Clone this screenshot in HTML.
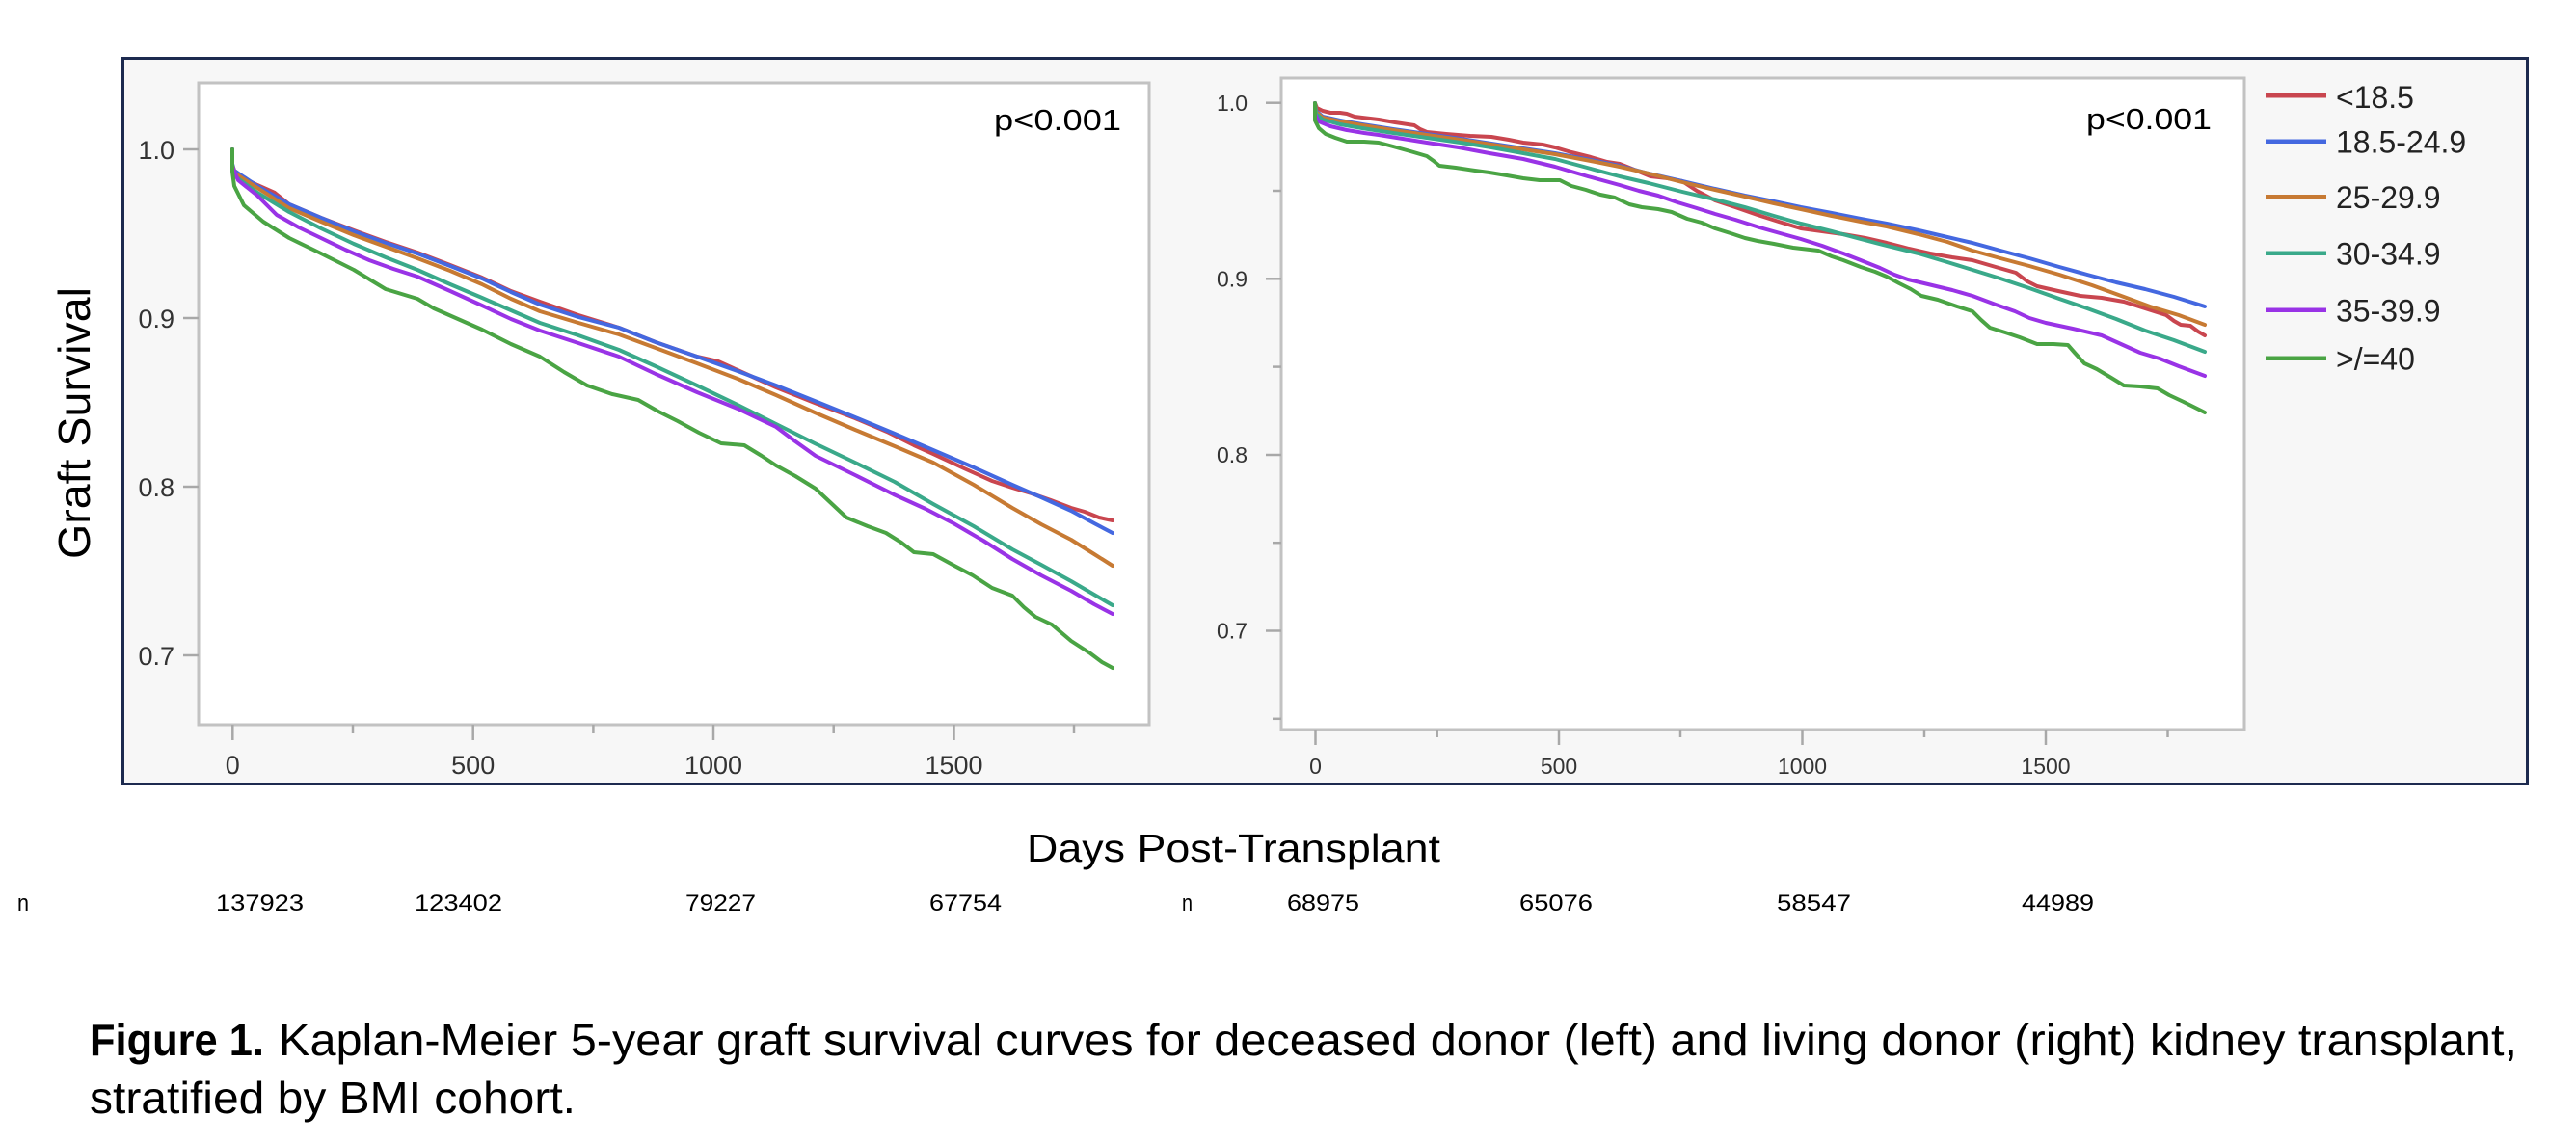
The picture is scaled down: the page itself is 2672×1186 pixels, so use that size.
<!DOCTYPE html>
<html><head><meta charset="utf-8">
<style>
html,body{margin:0;padding:0;background:#fff;}
svg{display:block;}
text{font-family:"Liberation Sans",Arial,sans-serif;}
</style></head>
<body>
<svg width="2672" height="1186" viewBox="0 0 2672 1186" xmlns="http://www.w3.org/2000/svg">
<rect x="0" y="0" width="2672" height="1186" fill="#fff"/>
<!-- outer frame -->
<rect x="127.5" y="60.5" width="2494" height="753" fill="#f7f7f7" stroke="#1d2a4f" stroke-width="3"/>

<!-- LEFT PLOT -->
<rect x="206" y="86" width="986" height="666" fill="#fff" stroke="#c2c2c2" stroke-width="3"/>
<g stroke="#a8a8a8" stroke-width="2.5">
<line x1="190" y1="155" x2="206" y2="155"/><line x1="190" y1="330" x2="206" y2="330"/>
<line x1="190" y1="505" x2="206" y2="505"/><line x1="190" y1="680" x2="206" y2="680"/>
<line x1="241.3" y1="752" x2="241.3" y2="768"/><line x1="490.7" y1="752" x2="490.7" y2="768"/>
<line x1="740" y1="752" x2="740" y2="768"/><line x1="989.5" y1="752" x2="989.5" y2="768"/>
<line x1="366" y1="752" x2="366" y2="761"/><line x1="615.4" y1="752" x2="615.4" y2="761"/>
<line x1="864.7" y1="752" x2="864.7" y2="761"/><line x1="1114" y1="752" x2="1114" y2="761"/>
</g>
<g font-size="27" fill="#333" text-anchor="end">
<text x="181" y="165">1.0</text><text x="181" y="340">0.9</text>
<text x="181" y="515">0.8</text><text x="181" y="690">0.7</text>
</g>
<g font-size="27" fill="#333" text-anchor="middle">
<text x="241.3" y="803">0</text><text x="490.7" y="803">500</text>
<text x="740" y="803">1000</text><text x="989.5" y="803">1500</text>
</g>
<text x="1031" y="135" font-size="31" fill="#000" textLength="132" lengthAdjust="spacingAndGlyphs">p&lt;0.001</text>

<g fill="none" stroke-width="4" stroke-linejoin="round" stroke-linecap="round">
<polyline stroke="#c9464f" points="241,155 241,172 243,177 255,186 267,192 285,200 300,212 333,226 367,239 400,251 433,262 467,275 500,288 530,302 560,313 600,327 642,340 680,355 723,370 745,375 765,384 805,402 845,418 887,434 920,448 948,462 968,471 1000,486 1029,499 1050,506 1070,512 1090,519 1111,527 1125,531 1140,537 1154,540"/>
<polyline stroke="#4468e0" points="241,155 241,170 243,177 267,193 300,212 333,226 367,240 400,252 433,263 467,276 500,289 530,303 560,316 600,329 642,340 680,355 723,370 765,385 805,400 845,416 887,433 928,450 968,467 1010,485 1050,503 1080,516 1111,530 1135,543 1154,553"/>
<polyline stroke="#c77a33" points="241,155 241,172 244,180 267,195 300,216 333,230 367,244 400,256 433,268 467,281 500,295 530,310 560,323 600,335 642,347 680,361 723,377 765,393 805,410 845,428 887,446 928,463 968,480 1010,503 1050,527 1080,544 1111,560 1135,575 1154,587"/>
<polyline stroke="#3aa98a" points="241,155 241,174 244,183 267,200 300,220 333,237 367,253 400,267 433,280 467,295 500,309 530,322 560,335 600,348 642,363 680,380 723,400 765,420 805,440 845,460 887,480 928,500 968,523 1010,546 1050,570 1080,586 1111,603 1135,617 1154,628"/>
<polyline stroke="#9933e6" points="241,155 241,173 247,187 267,203 287,223 310,236 333,247 358,259 383,270 408,279 433,287 467,302 500,317 530,331 560,343 600,356 642,370 680,388 723,407 765,424 805,443 825,458 846,473 887,493 927,513 960,528 989,543 1020,561 1050,580 1080,597 1111,613 1135,627 1154,637"/>
<polyline stroke="#4aa444" points="241,155 241,178 243,193 253,213 273,230 300,247 333,263 367,280 400,300 433,310 450,320 475,331 500,342 530,357 560,370 585,386 609,400 635,409 662,415 683,427 703,437 725,449 748,460 772,462 790,473 805,483 825,494 846,507 862,522 878,537 900,546 919,553 935,563 948,573 968,575 990,587 1009,597 1029,610 1050,618 1062,630 1074,640 1091,648 1111,665 1131,678 1143,687 1154,693"/>
</g>

<!-- RIGHT PLOT -->
<rect x="1329" y="81" width="999" height="676" fill="#fff" stroke="#c2c2c2" stroke-width="3"/>
<g stroke="#a8a8a8" stroke-width="2.5">
<line x1="1313" y1="106.7" x2="1329" y2="106.7"/><line x1="1313" y1="289.3" x2="1329" y2="289.3"/>
<line x1="1313" y1="472" x2="1329" y2="472"/><line x1="1313" y1="654.5" x2="1329" y2="654.5"/>
<line x1="1320" y1="198" x2="1329" y2="198"/><line x1="1320" y1="380.6" x2="1329" y2="380.6"/>
<line x1="1320" y1="563.2" x2="1329" y2="563.2"/><line x1="1320" y1="745.8" x2="1329" y2="745.8"/>
<line x1="1364.5" y1="757" x2="1364.5" y2="773"/><line x1="1617" y1="757" x2="1617" y2="773"/>
<line x1="1869.5" y1="757" x2="1869.5" y2="773"/><line x1="2122" y1="757" x2="2122" y2="773"/>
<line x1="1490.7" y1="757" x2="1490.7" y2="765"/><line x1="1743" y1="757" x2="1743" y2="765"/>
<line x1="1996" y1="757" x2="1996" y2="765"/><line x1="2248.5" y1="757" x2="2248.5" y2="765"/>
</g>
<g font-size="23" fill="#333" text-anchor="end">
<text x="1294" y="115">1.0</text><text x="1294" y="297.5">0.9</text>
<text x="1294" y="480">0.8</text><text x="1294" y="662.5">0.7</text>
</g>
<g font-size="23" fill="#333" text-anchor="middle">
<text x="1364.5" y="803">0</text><text x="1617" y="803">500</text>
<text x="1869.5" y="803">1000</text><text x="2122" y="803">1500</text>
</g>
<text x="2164" y="134" font-size="31" fill="#000" textLength="130" lengthAdjust="spacingAndGlyphs">p&lt;0.001</text>

<g fill="none" stroke-width="4" stroke-linejoin="round" stroke-linecap="round">
<polyline stroke="#c9464f" points="1364,107 1366,112 1372,115 1380,117 1390,117 1397,118 1405,121 1413,122 1430,124 1447,127 1467,130 1473,134 1480,137 1500,139 1525,141 1547,142 1565,145 1580,148 1600,150 1613,153 1630,158 1650,163 1667,168 1680,170 1695,176 1712,183 1730,185 1745,188 1760,198 1779,208 1800,215 1823,223 1845,230 1868,237 1890,240 1912,243 1935,247 1957,252 1980,258 2002,263 2025,267 2046,270 2070,277 2091,283 2103,292 2113,297 2135,302 2158,307 2180,309 2203,313 2225,320 2247,327 2255,333 2262,337 2272,338 2280,344 2287,348"/>
<polyline stroke="#4468e0" points="1364,107 1365,115 1372,121 1390,125 1413,129 1445,134 1480,139 1515,144 1547,149 1580,154 1613,159 1650,166 1680,172 1710,180 1745,188 1779,196 1810,203 1840,209 1868,215 1900,221 1930,227 1957,232 1990,239 2020,246 2046,252 2075,260 2105,268 2136,277 2165,285 2195,293 2225,300 2255,308 2287,318"/>
<polyline stroke="#c77a33" points="1364,107 1365,116 1372,122 1390,126 1413,130 1445,135 1480,140 1515,145 1547,150 1580,155 1613,160 1650,167 1680,173 1710,180 1745,189 1779,197 1810,204 1840,211 1868,217 1900,224 1930,230 1957,235 1990,243 2020,251 2046,260 2075,268 2105,276 2136,285 2170,296 2203,308 2230,318 2260,327 2287,337"/>
<polyline stroke="#3aa98a" points="1364,107 1365,118 1372,124 1390,129 1413,133 1445,138 1480,143 1515,148 1547,153 1580,159 1613,165 1650,175 1680,183 1710,190 1745,199 1779,207 1810,215 1840,224 1868,232 1900,240 1930,248 1957,255 1990,263 2020,272 2046,280 2075,289 2105,299 2136,310 2165,320 2195,331 2225,343 2255,353 2287,365"/>
<polyline stroke="#9933e6" points="1364,107 1364,118 1368,126 1380,131 1397,135 1415,138 1430,140 1455,144 1480,148 1513,153 1545,159 1580,165 1613,173 1647,183 1680,192 1700,198 1720,203 1740,210 1760,216 1779,222 1800,228 1825,236 1850,243 1868,248 1890,255 1912,263 1930,270 1950,278 1965,285 1979,290 2000,295 2025,301 2046,307 2070,316 2090,323 2105,330 2122,335 2150,341 2180,348 2200,357 2220,366 2240,372 2260,380 2287,390"/>
<polyline stroke="#4aa444" points="1364,107 1364,125 1368,133 1375,139 1385,143 1397,147 1415,147 1430,148 1445,152 1463,157 1480,162 1487,167 1493,172 1510,174 1530,177 1545,179 1563,182 1580,185 1597,187 1618,187 1630,193 1645,197 1660,202 1675,205 1690,212 1703,215 1720,217 1734,220 1750,227 1765,231 1779,237 1795,242 1810,247 1823,250 1840,253 1860,257 1886,260 1900,266 1912,270 1930,277 1945,282 1957,287 1970,294 1982,300 1993,307 2010,311 2030,318 2046,323 2055,332 2064,340 2080,345 2095,350 2113,357 2130,357 2145,358 2152,366 2162,377 2175,383 2190,392 2203,400 2220,401 2238,403 2250,410 2265,417 2287,428"/>
</g>

<!-- Legend -->
<g stroke-width="4.5" stroke-linecap="butt">
<line x1="2350" y1="99.3" x2="2413" y2="99.3" stroke="#c9464f"/>
<line x1="2350" y1="146.7" x2="2413" y2="146.7" stroke="#4468e0"/>
<line x1="2350" y1="204.3" x2="2413" y2="204.3" stroke="#c77a33"/>
<line x1="2350" y1="262.7" x2="2413" y2="262.7" stroke="#3aa98a"/>
<line x1="2350" y1="321.7" x2="2413" y2="321.7" stroke="#9933e6"/>
<line x1="2350" y1="371.7" x2="2413" y2="371.7" stroke="#4aa444"/>
</g>
<g font-size="32" fill="#222">
<text x="2423" y="112">&lt;18.5</text>
<text x="2423" y="158.5">18.5-24.9</text>
<text x="2423" y="216">25-29.9</text>
<text x="2423" y="274.5">30-34.9</text>
<text x="2423" y="333.5">35-39.9</text>
<text x="2423" y="383.5">&gt;/=40</text>
</g>

<!-- Axis titles -->
<text transform="translate(93,439) rotate(-90)" x="0" y="0" font-size="46" fill="#000" text-anchor="middle" textLength="282" lengthAdjust="spacingAndGlyphs">Graft Survival</text>
<text x="1065" y="894" font-size="41" fill="#000" textLength="429" lengthAdjust="spacingAndGlyphs">Days Post-Transplant</text>

<!-- n row -->
<g font-size="24" fill="#000">
<text x="18" y="945" textLength="12" lengthAdjust="spacingAndGlyphs">n</text>
<text x="224" y="945" textLength="91" lengthAdjust="spacingAndGlyphs">137923</text>
<text x="430" y="945" textLength="91" lengthAdjust="spacingAndGlyphs">123402</text>
<text x="711" y="945" textLength="73" lengthAdjust="spacingAndGlyphs">79227</text>
<text x="964" y="945" textLength="75" lengthAdjust="spacingAndGlyphs">67754</text>
<text x="1226" y="945" textLength="11" lengthAdjust="spacingAndGlyphs">n</text>
<text x="1335" y="945" textLength="75" lengthAdjust="spacingAndGlyphs">68975</text>
<text x="1576" y="945" textLength="76" lengthAdjust="spacingAndGlyphs">65076</text>
<text x="1843" y="945" textLength="77" lengthAdjust="spacingAndGlyphs">58547</text>
<text x="2097" y="945" textLength="75" lengthAdjust="spacingAndGlyphs">44989</text>
</g>

<!-- Caption -->
<text x="93" y="1095" font-size="46" font-weight="bold" fill="#000" textLength="181" lengthAdjust="spacingAndGlyphs">Figure 1.</text>
<text x="289" y="1095" font-size="46" fill="#000" textLength="2322" lengthAdjust="spacingAndGlyphs">Kaplan-Meier 5-year graft survival curves for deceased donor (left) and living donor (right) kidney transplant,</text>
<text x="93" y="1155" font-size="46" fill="#000" textLength="504" lengthAdjust="spacingAndGlyphs">stratified by BMI cohort.</text>
</svg>
</body></html>
